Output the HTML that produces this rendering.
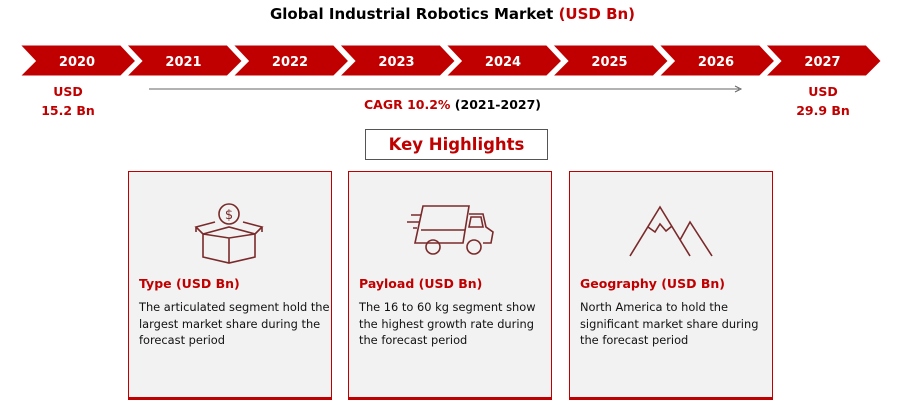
<!DOCTYPE html>
<html><head><meta charset="utf-8"><style>
body{margin:0;width:905px;height:414px;background:#fff;font-family:"DejaVu Sans","Liberation Sans",sans-serif;position:relative;overflow:hidden}
.abs{position:absolute}
.title{left:0;width:905px;top:5px;text-align:center;font-weight:bold;font-size:15px;color:#000}
.red{color:#c00000}
.usd{font-weight:bold;font-size:12.5px;color:#c00000;text-align:center;line-height:19px}
.card{background:#f2f2f2;border:1px solid #c00000;border-bottom:3px solid #c00000;box-sizing:border-box;width:204px;height:229px;top:171px}
.card h3{position:absolute;left:10px;top:104px;margin:0;font-size:12.5px;color:#c00000;font-weight:bold;white-space:nowrap}
.card p{position:absolute;left:10px;top:127px;margin:0;font-size:11.4px;line-height:16.5px;color:#111;white-space:nowrap}
.icon{position:absolute;left:62px;top:22px;overflow:visible}
</style></head><body>
<div class="abs title">Global Industrial Robotics Market <span class="red">(USD Bn)</span></div>
<svg class="abs" style="left:0;top:0" width="905" height="90" id="tl"></svg>
<div class="abs usd" style="left:28px;top:82px;width:80px">USD<br>15.2 Bn</div>
<div class="abs usd" style="left:783px;top:82px;width:80px">USD<br>29.9 Bn</div>
<svg class="abs" style="left:145px;top:84px" width="600" height="10"><line x1="4" y1="5" x2="594" y2="5" stroke="#666" stroke-width="1"/><path d="M590,2 L596,5 L590,8" fill="none" stroke="#666"/></svg>
<div class="abs" style="left:0;width:905px;top:97px;text-align:center;font-weight:bold;font-size:12.5px"><span class="red">CAGR 10.2%</span> (2021-2027)</div>
<div class="abs" style="left:365px;top:129px;width:183px;height:31px;border:1px solid #555;box-sizing:border-box;text-align:center;line-height:29px;font-weight:bold;font-size:16.5px;color:#c00000">Key Highlights</div>

<div class="abs card" style="left:128px">
<svg class="icon" width="80" height="75" fill="none" stroke="#7a2a2a" stroke-width="1.6">
<circle cx="38" cy="20" r="10"/><text x="38" y="25" font-size="13" text-anchor="middle" fill="#7a2a2a" stroke="none">$</text>
<path d="M12,40 L38,33 L64,40 L64,63 L38,69 L12,63 Z M38,44 L38,69 M12,40 L38,44 L64,40 M12,40 L5,33 L24,28 M64,40 L71,33 L52,28 M5,33 L5,38 M71,33 L71,38"/>
</svg>
<h3>Type (USD Bn)</h3>
<p>The articulated segment hold the<br>largest market share during the<br>forecast period</p>
</div>
<div class="abs card" style="left:348px">
<svg class="icon" style="left:56px;top:30px" width="95" height="60" fill="none" stroke="#7a2a2a" stroke-width="1.6">
<path d="M18,4 L64,4 L58,41 L10,41 Z M64,12 L78,12 L81,25 L88,30 L86,41 L78,41 M16,28 L60,28 M66,15 L76,15 L78,25 L64,25 Z M10,41 L20,41 M36,41 L50,41"/>
<circle cx="28" cy="45" r="7"/><circle cx="69" cy="45" r="7"/>
<path d="M6,13 L16,13 M2,20 L14,20 M8,26 L12,26"/>
</svg>
<h3>Payload (USD Bn)</h3>
<p>The 16 to 60 kg segment show<br>the highest growth rate during<br>the forecast period</p>
</div>
<div class="abs card" style="left:569px">
<svg class="icon" style="left:58px;top:32px" width="90" height="55" fill="none" stroke="#7a2a2a" stroke-width="1.6">
<path d="M2,52 L32,3 L62,52 M20,23 L27,28 L32,20 L38,27 L44,22 M52,36 L62,18 L84,52"/>
</svg>
<h3>Geography (USD Bn)</h3>
<p>North America to hold the<br>significant market share during<br>the forecast period</p>
</div>
<script>
const years=["2020","2021","2022","2023","2024","2025","2026","2027"];
const svg=document.getElementById('tl');
years.forEach((y,i)=>{
 const x0=18+106.5*i,w=103;
 const p=document.createElementNS('http://www.w3.org/2000/svg','polygon');
 p.setAttribute('points',`${x0},44 ${x0+w},44 ${x0+w+16},61 ${x0+w},77 ${x0},77 ${x0+16},61`);
 p.setAttribute('fill','#c00000');
 p.setAttribute('stroke','#fff');p.setAttribute('stroke-width','3');
 
 
 svg.appendChild(p);
 const t=document.createElementNS('http://www.w3.org/2000/svg','text');
 t.setAttribute('x',x0+59);t.setAttribute('y',66);
 t.setAttribute('text-anchor','middle');t.setAttribute('fill','#fff');
 t.setAttribute('font-weight','bold');t.setAttribute('font-size','13');
 t.textContent=y;
 
 
 svg.appendChild(t);
});
</script>
</body></html>
